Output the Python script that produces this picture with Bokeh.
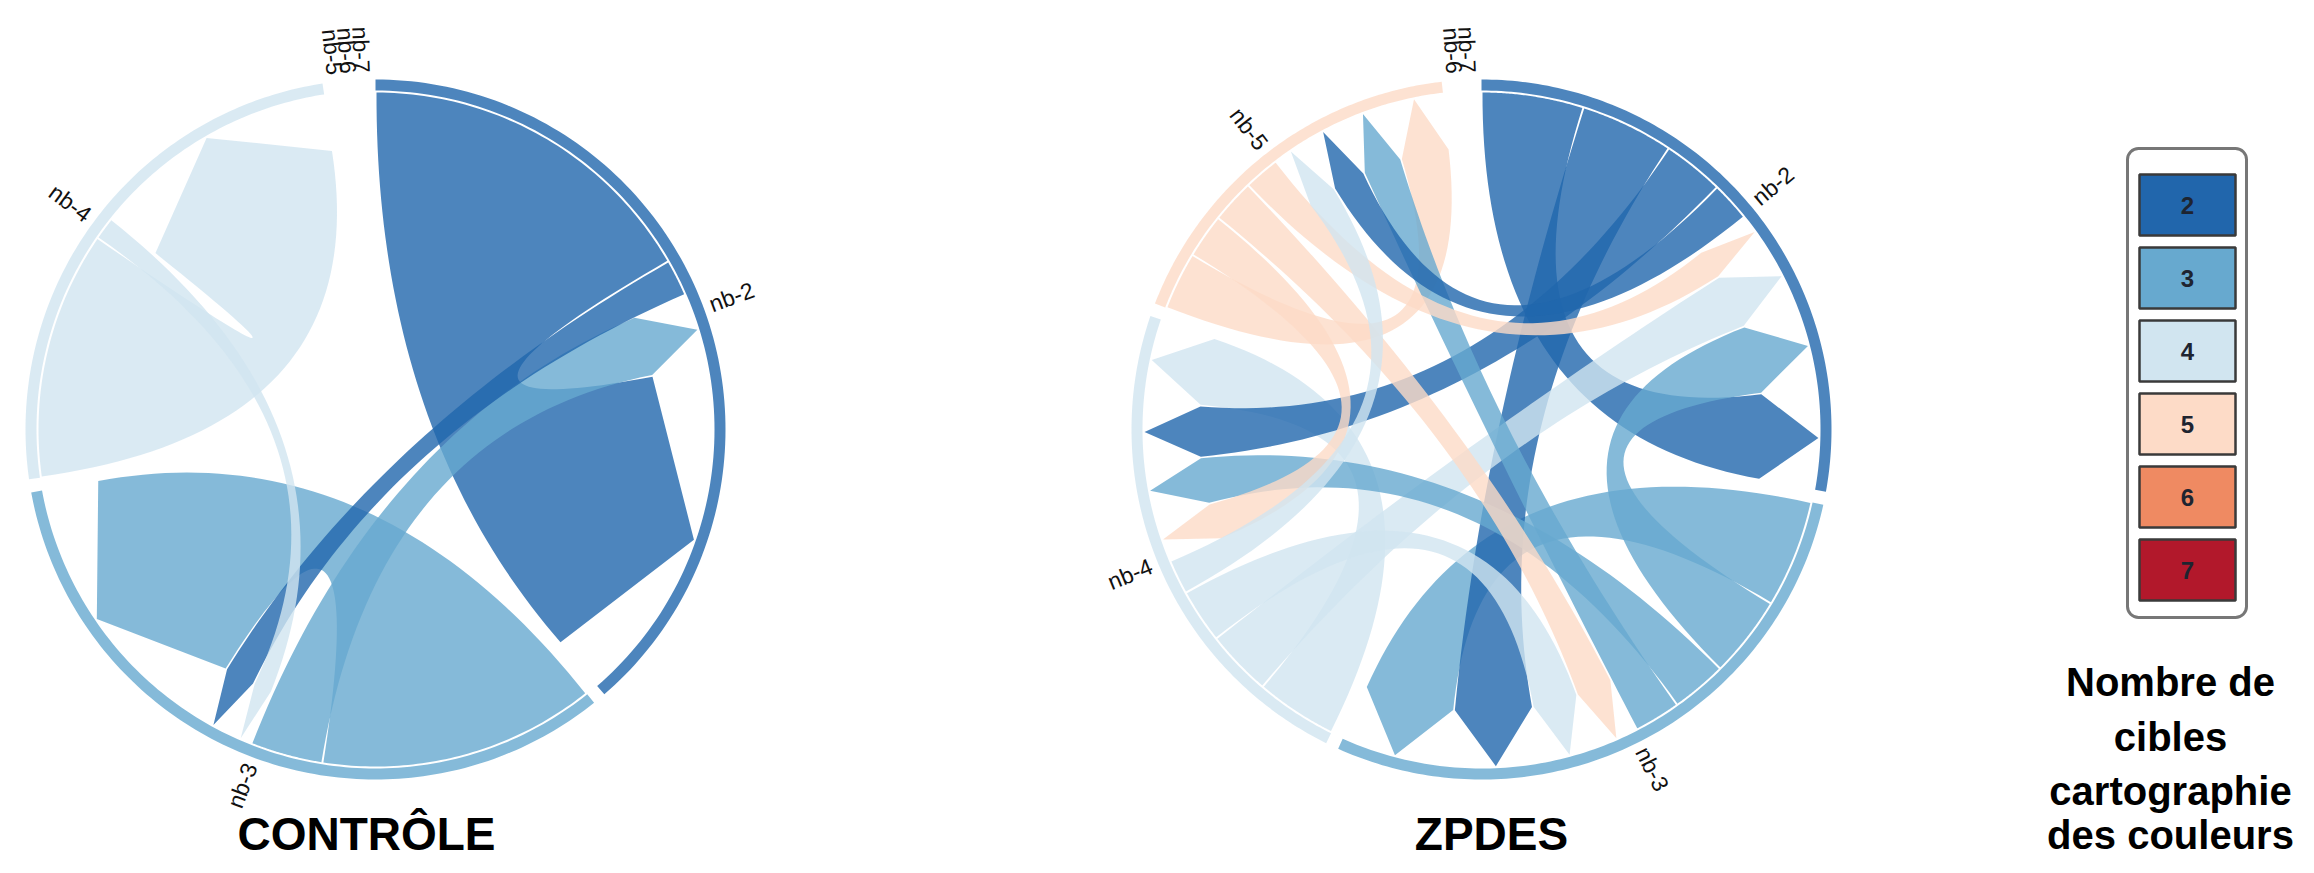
import math
import numpy as np
from bokeh.plotting import figure
from bokeh.models import Range1d
from bokeh.core.properties import value
from bokeh.embed import file_html
from bokeh.resources import INLINE

# ---------------- data ----------------
GROUP_NAMES = ["nb-2", "nb-3", "nb-4", "nb-5", "nb-6", "nb-7"]
GROUP_COLORS = ["#2166ac", "#67a9cf", "#d1e5f0", "#fddbc7", "#ef8a62", "#b2182b"]
LEGEND_VALUES = ["2", "3", "4", "5", "6", "7"]
LEGEND_TITLE = ["Nombre de", "cibles", "cartographie", "des couleurs"]
TITLES = ["CONTRÔLE", "ZPDES"]

# flows: rows = source group, columns = target group (nb-2 .. nb-7)
CONTROLE_FLOWS = [
    [60.5, 6.4, 0, 0, 0, 0],
    [12.6, 48.0, 0, 0, 0, 0],
    [0, 4.0, 43.0, 0, 0, 0],
    [0, 0, 0, 0, 0, 0],
    [0, 0, 0, 0, 0, 0],
    [0, 0, 0, 0, 0, 0],
]
ZPDES_FLOWS = [
    [17.5, 16.0, 10.5, 6.8, 0, 0],
    [14.0, 18.5, 9.5, 8.0, 0, 0],
    [11.3, 9.3, 14.0, 6.0, 0, 0],
    [6.2, 7.5, 7.6, 10.0, 0, 0],
    [0, 0, 0, 0, 0, 0],
    [0, 0, 0, 0, 0, 0],
]

# ---------------- layout ----------------
IMG_H = 873
W, H = 2298, 857
PAD = 0.038
R_OUT, R_IN = 350, 339
R_RIB = 337
HEAD = 55
RIB_PAD = 2.0 / 338
LABEL_OFF = 7
ALPHA = 0.8
FONT = value("Liberation Sans")


def Y(ref_y):
    return IMG_H - ref_y


def chord_directed(m, pad):
    n = len(m)
    sums = [sum(m[i][j] + m[j][i] for j in range(n)) for i in range(n)]
    total = sum(sums)
    k = max(0.0, 2 * math.pi - pad * n) / total
    chords = {}
    groups = []
    x = 0.0
    for i in range(n):
        x0 = x
        sub = [j for j in range(-n, n) if ((m[~j][i] if j < 0 else m[i][j]) != 0)]
        sub.sort(key=lambda a: -(-m[~a][i] if a < 0 else m[i][a]))
        for j in sub:
            if j < 0:
                src = ~j
                v = m[src][i]
                c = chords.setdefault((src, i), {})
                c["target"] = (i, x, x + v * k, v)
                x += v * k
            else:
                v = m[i][j]
                c = chords.setdefault((i, j), {})
                c["source"] = (i, x, x + v * k, v)
                x += v * k
        groups.append((i, x0, x))
        x += pad
    order = sorted(chords.keys(), key=lambda key: key[0] * n + key[1])
    clist = [chords[key] for key in order]
    clist = sorted(clist, key=lambda c: -(c["source"][3] + c["target"][3]))
    return groups, clist


def quad(p0, c, p1, n=50):
    t = np.linspace(0, 1, n)
    x = (1 - t) ** 2 * p0[0] + 2 * (1 - t) * t * c[0] + t ** 2 * p1[0]
    y = (1 - t) ** 2 * p0[1] + 2 * (1 - t) * t * c[1] + t ** 2 * p1[1]
    return list(zip(x, y))


def draw_chord(p, matrix, cx, cy_ref):
    cy = Y(cy_ref)

    def P(r, a):
        return (cx + r * math.sin(a), cy + r * math.cos(a))

    groups, chords = chord_directed(matrix, PAD)

    # group arcs
    gx, gy, gc = [], [], []
    for (i, a0, a1) in groups:
        if a1 - a0 <= 1e-9:
            continue
        ang = np.linspace(a0, a1, 120)
        ox = cx + R_OUT * np.sin(ang)
        oy = cy + R_OUT * np.cos(ang)
        ix = cx + R_IN * np.sin(ang[::-1])
        iy = cy + R_IN * np.cos(ang[::-1])
        gx.append(np.concatenate([ox, ix]).tolist())
        gy.append(np.concatenate([oy, iy]).tolist())
        gc.append(GROUP_COLORS[i])
    p.patches(gx, gy, fill_color=gc, fill_alpha=ALPHA, line_color=None)

    # ribbons (arrows)
    ap = RIB_PAD / 2
    for c in chords:
        s, t = c["source"], c["target"]
        sa0, sa1 = s[1], s[2]
        ta0, ta1 = t[1], t[2]
        if abs(sa1 - sa0) > 2 * ap:
            sa0, sa1 = sa0 + ap, sa1 - ap
        else:
            sa0 = sa1 = (sa0 + sa1) / 2
        if abs(ta1 - ta0) > 2 * ap:
            ta0, ta1 = ta0 + ap, ta1 - ap
        else:
            ta0 = ta1 = (ta0 + ta1) / 2
        r = R_RIB
        r2 = r - HEAD
        tm = (ta0 + ta1) / 2
        pts = [P(r, a) for a in np.linspace(sa0, sa1, 60)]
        pts += quad(P(r, sa1), (cx, cy), P(r2, ta0))
        pts.append(P(r, tm))
        pts += quad(P(r2, ta1), (cx, cy), P(r, sa0))
        xs = [q[0] for q in pts]
        ys = [q[1] for q in pts]
        p.patch(xs, ys, fill_color=GROUP_COLORS[s[0]], fill_alpha=ALPHA, line_color=None)

    # labels
    for (i, a0, a1) in groups:
        a = (a0 + a1) / 2
        x, y = P(R_OUT + LABEL_OFF, a)
        if a > math.pi:
            ang = 1.5 * math.pi - a
            al = "right"
        else:
            ang = 0.5 * math.pi - a
            al = "left"
        p.text([x], [y], text=[GROUP_NAMES[i]], angle=[ang], text_align=al, text_baseline="middle",
               text_font=FONT, text_font_size="23px", text_color="#111111")


# canvas mapped onto reference pixel coordinates (x right, y measured from the top)
p = figure(width=W, height=H, x_range=Range1d(0, W), y_range=Range1d(IMG_H - H, IMG_H),
           output_backend="svg", toolbar_location=None, min_border=0,
           x_axis_type=None, y_axis_type=None, title_location=None)
p.grid.visible = False
p.outline_line_color = None
p.background_fill_color = "white"
p.border_fill_color = "white"

draw_chord(p, CONTROLE_FLOWS, 375, 429)
draw_chord(p, ZPDES_FLOWS, 1481, 429)

# titles
p.text([366, 1491], [Y(833), Y(833)], text=TITLES, text_align="center", text_baseline="middle",
       text_font=FONT, text_font_style="bold", text_font_size="46px", text_color="black")

# legend
LX0, LX1 = 2127, 2246
LY0, LY1 = 148, 617
p.quad(left=[LX0], right=[LX1], top=[Y(LY0)], bottom=[Y(LY1)], fill_color="white",
       line_color="#777777", line_width=3, border_radius=11)
sq_left, sq_right = 2139, 2235
sq_h = 61
centers = [204.5 + 73 * k for k in range(len(LEGEND_VALUES))]
p.quad(left=[sq_left] * 6, right=[sq_right] * 6,
       top=[Y(c - sq_h / 2) for c in centers], bottom=[Y(c + sq_h / 2) for c in centers],
       fill_color=GROUP_COLORS, line_color="#3a3a3a", line_width=2.5)
p.text([(sq_left + sq_right) / 2] * 6, [Y(c) for c in centers], text=LEGEND_VALUES,
       text_align="center", text_baseline="middle", text_font=FONT,
       text_font_style="bold", text_font_size="24px", text_color="#1e2430")

p.text([2170] * 4, [Y(v) for v in [681, 736, 790, 834]], text=LEGEND_TITLE,
       text_align="center", text_baseline="middle", text_font=FONT,
       text_font_style="bold", text_font_size="40px", text_color="black")

open("out.html", "w").write(file_html(p, INLINE))
